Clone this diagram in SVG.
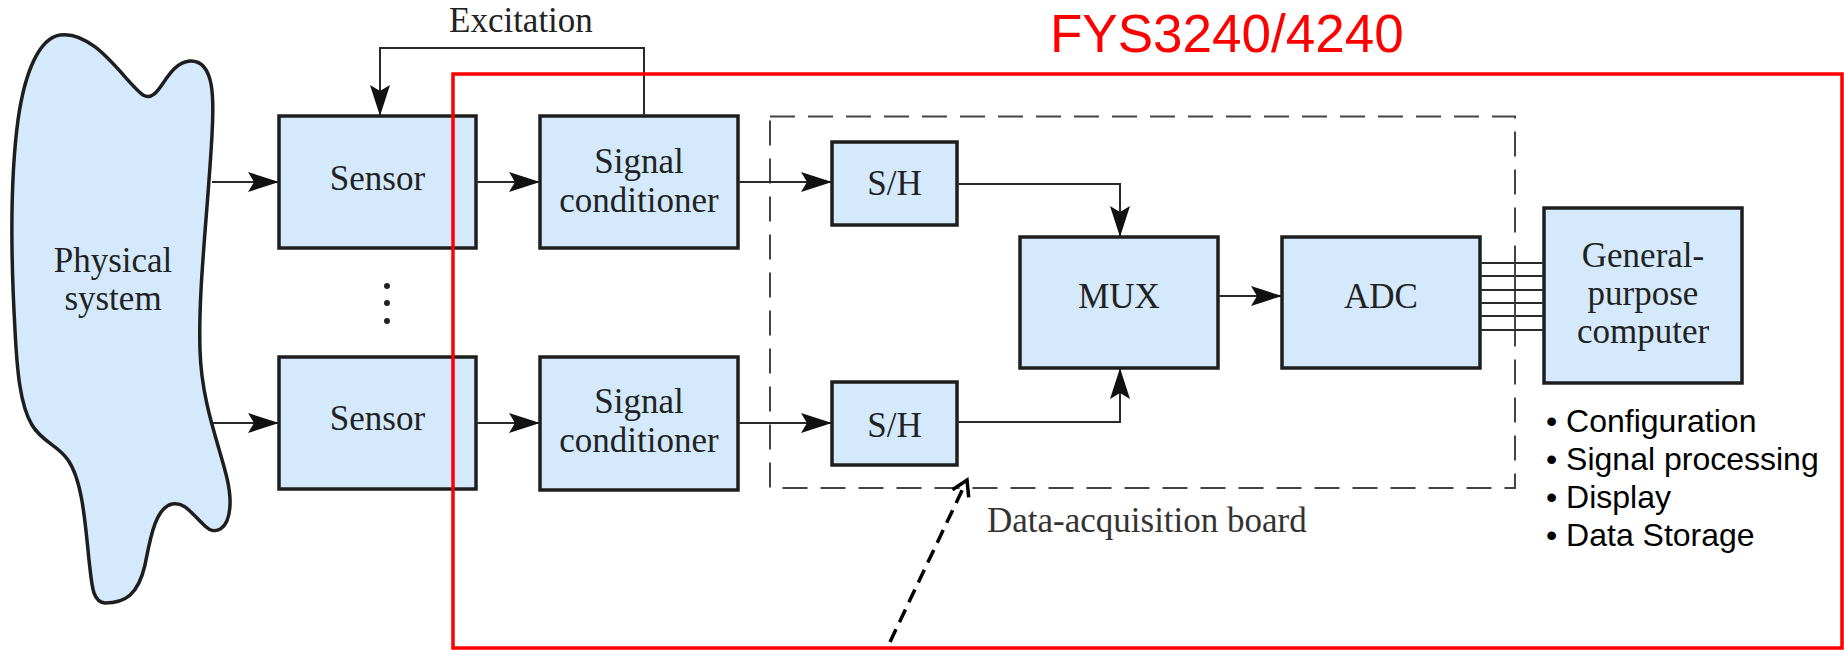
<svg xmlns="http://www.w3.org/2000/svg" width="1844" height="650" viewBox="0 0 1844 650">
<style>
.box{fill:#d4eafc;stroke:#1e1e1e;stroke-width:3.5}
.lbl{font-family:"Liberation Serif","Times New Roman",serif;font-size:35px;fill:#222;text-anchor:middle}
.conn{fill:none;stroke:#2a2a2a;stroke-width:2}
.bul{font-family:"Liberation Sans",Arial,sans-serif;font-size:32px;fill:#000}
</style>
<defs>
<marker id="ah" viewBox="-32 -12 34 24" refX="0" refY="0" markerWidth="34" markerHeight="24" markerUnits="userSpaceOnUse" orient="auto">
<path d="M0,0 L-31,-10 L-25,0 L-31,10 Z" fill="#111"/>
</marker>
<marker id="open" viewBox="-20 -12 24 24" refX="0" refY="0" markerWidth="24" markerHeight="24" markerUnits="userSpaceOnUse" orient="auto">
<path d="M-15,-9 L0,0 L-15,9" fill="none" stroke="#000" stroke-width="3.5"/>
</marker>
</defs>
<rect width="1844" height="650" fill="#fff"/>

<g id="title">
<text x="1050" y="52" font-family="Liberation Sans, Arial, sans-serif" font-size="53" fill="#ff0000">FYS3240/4240</text>
</g>

<g id="physical-system">
<path class="box" stroke-width="3" d="M60,35 C95,30 125,82 143,95 C160,105 165,63 190,61 C215,60 214,100 212,135 C208,210 198,290 200,350 C202,420 232,470 230,505 C229,530 215,536 205,526 C190,512 185,502 172,504 C155,508 150,540 145,565 C138,595 125,603 105,603 C92,602 92,585 89,560 C85,520 82,480 68,460 C58,445 42,442 32,425 C20,405 17,370 15,330 C11,260 10,180 18,120 C25,70 40,38 60,35 Z"/>
<text class="lbl" x="113" y="272">Physical</text>
<text class="lbl" x="113" y="310">system</text>
</g>

<g id="excitation-label">
<text x="449" y="32" font-family="Liberation Serif, Times New Roman, serif" font-size="35" fill="#222">Excitation</text>
</g>

<g id="sensor1">
<rect class="box" x="279" y="116" width="197" height="132"/>
<text class="lbl" x="377.5" y="190">Sensor</text>
</g>
<g id="sensor2">
<rect class="box" x="279" y="357" width="197" height="132"/>
<text class="lbl" x="377.5" y="430">Sensor</text>
</g>
<g id="dots">
<circle cx="387" cy="286" r="3" fill="#222"/>
<circle cx="387" cy="303" r="3" fill="#222"/>
<circle cx="387" cy="321" r="3" fill="#222"/>
</g>

<g id="conditioner1">
<rect class="box" x="540" y="116" width="198" height="132"/>
<text class="lbl" x="639" y="173">Signal</text>
<text class="lbl" x="639" y="212">conditioner</text>
</g>
<g id="conditioner2">
<rect class="box" x="540" y="357" width="198" height="133"/>
<text class="lbl" x="639" y="413">Signal</text>
<text class="lbl" x="639" y="452">conditioner</text>
</g>

<g id="daq-board">
<rect x="770" y="116.5" width="745" height="371.5" fill="none" stroke="#444" stroke-width="2" stroke-dasharray="25 13"/>
<text x="987" y="532" font-family="Liberation Serif, Times New Roman, serif" font-size="35" fill="#333">Data-acquisition board</text>
</g>

<g id="sh1">
<rect class="box" x="832" y="142" width="125" height="83"/>
<text class="lbl" x="894.5" y="195">S/H</text>
</g>
<g id="sh2">
<rect class="box" x="832" y="382" width="125" height="83"/>
<text class="lbl" x="894.5" y="437">S/H</text>
</g>

<g id="mux">
<rect class="box" x="1020" y="237" width="198" height="131"/>
<text class="lbl" x="1119" y="308">MUX</text>
</g>
<g id="adc">
<rect class="box" x="1282" y="237" width="198" height="131"/>
<text class="lbl" x="1381" y="308">ADC</text>
</g>

<g id="computer">
<rect class="box" x="1544" y="208" width="198" height="175"/>
<text class="lbl" x="1643" y="267">General-</text>
<text class="lbl" x="1643" y="305">purpose</text>
<text class="lbl" x="1643" y="343">computer</text>
</g>

<g id="tasks">
<text class="bul" x="1546" y="432">• Configuration</text>
<text class="bul" x="1546" y="470">• Signal processing</text>
<text class="bul" x="1546" y="508">• Display</text>
<text class="bul" x="1546" y="546">• Data Storage</text>
</g>

<g id="connectors">
<path class="conn" d="M212,182 H279" marker-end="url(#ah)"/>
<path class="conn" d="M212,423 H279" marker-end="url(#ah)"/>
<path class="conn" d="M476,182 H540" marker-end="url(#ah)"/>
<path class="conn" d="M476,423 H540" marker-end="url(#ah)"/>
<path class="conn" d="M738,182 H832" marker-end="url(#ah)"/>
<path class="conn" d="M738,423 H832" marker-end="url(#ah)"/>
<path class="conn" stroke="#555" stroke-width="1.8" d="M644,116 V48 H380 V116" marker-end="url(#ah)"/>
<path class="conn" d="M957,184 H1120 V237" marker-end="url(#ah)"/>
<path class="conn" d="M957,422 H1120 V368" marker-end="url(#ah)"/>
<path class="conn" d="M1218,296 H1282" marker-end="url(#ah)"/>
<g class="conn" stroke-width="2.2">
<path d="M1480,263 H1544"/>
<path d="M1480,276 H1544"/>
<path d="M1480,290 H1544"/>
<path d="M1480,303 H1544"/>
<path d="M1480,316 H1544"/>
<path d="M1480,330 H1544"/>
<path stroke="#444" stroke-width="2" d="M1515,263 V289 M1515,303 V330"/>
</g>
<path d="M890,642 L967,480" fill="none" stroke="#000" stroke-width="3.5" stroke-dasharray="14 8" marker-end="url(#open)"/>
</g>

<g id="course-frame">
<rect x="453" y="74" width="1389" height="574" fill="none" stroke="#ff0000" stroke-width="3.5"/>
</g>
</svg>
